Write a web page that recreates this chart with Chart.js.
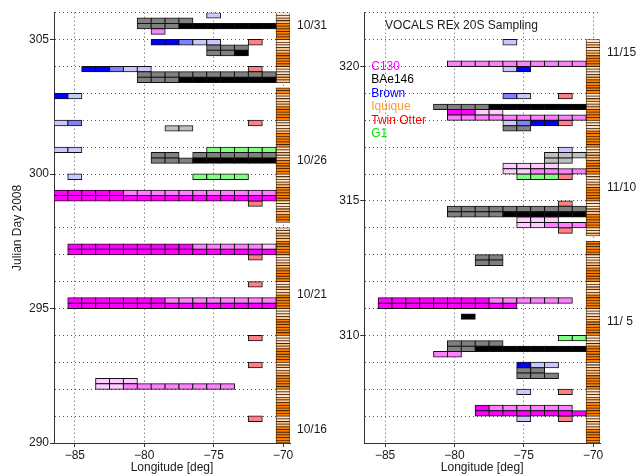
<!DOCTYPE html>
<html>
<head>
<meta charset="utf-8">
<script src="https://cdn.jsdelivr.net/npm/chart.js@4/dist/chart.umd.min.js"></script>
<style>
  html, body { margin: 0; padding: 0; background: #fff; }
  #wrap { position: relative; width: 638px; height: 476px; overflow: hidden; }
  canvas { position: absolute; top: 0; }
  #left { left: 0; }
  #right { left: 330px; }
</style>
</head>
<body>
<div id="wrap">
  <canvas id="left" width="330" height="476" style="width:330px;height:476px"></canvas>
  <canvas id="right" width="308" height="476" style="width:308px;height:476px"></canvas>
</div>
<script>
// ═══ DATA ═══
// rows: [top of 0.2-day bin (Julian day), westmost longitude, shade per 1-deg cell going east]
// shades  C130: F full, M medium, L light | BAe146: K black, G gray, S silver | Brown: B, M, L
const c130Left = [
  [305.4, -79, 'M'],
  [299.4, -86, 'FFFFFMMMMMMMMMMM'],
  [299.2, -86, 'FFFFFFFFFFFFFFFF'],
  [297.4, -85, 'FFFFFFFFFMMMMML'],
  [297.2, -85, 'FFFFFFFFFFFFFFF'],
  [295.4, -85, 'FFFFFFFMMMMMMMM'],
  [295.2, -85, 'FFFFFFFFFFFFFFF'],
  [292.4, -83, 'LLL'],
  [292.2, -83, 'LLMMMMMMMM']
];
const bae146Left = [
  [305.8, -80, 'GGGG'],
  [305.6, -80, 'GGGKKKKKKK'],
  [304.8, -75, 'GGG'],
  [304.6, -75, 'GGK'],
  [303.8, -80, 'GGGGGGGGGG'],
  [303.6, -80, 'GGGKKKKKKK'],
  [301.8, -78, 'SS'],
  [300.8, -79, 'GG.GGGGGG'],
  [300.6, -79, 'GGGKKKKKK']
];
const brownLeft = [
  [306.0, -75, 'L'],
  [305.0, -79, 'BBMLL'],
  [304.0, -84, 'BBMLL'],
  [303.0, -86, 'BL'],
  [302.0, -86, 'LM'],
  [301.0, -86, 'LL'],
  [300.0, -85, 'L']
];
const twinOtterLeft = [
  [305.0, -72, 'R'], [304.0, -72, 'R'], [302.0, -72, 'R'], [299.0, -72, 'R'], [297.0, -72, 'R'],
  [296.0, -72, 'R'], [294.0, -72, 'R'], [293.0, -72, 'R'], [291.0, -72, 'R']
];
const g1Left = [
  [301.0, -75, 'GGGGG'],
  [300.0, -76, 'GGGG']
];

const c130Right = [
  [320.2, -80, 'MMMMMMMMMM'],
  [318.4, -80, 'FFLL'],
  [318.2, -80, 'MMMMMMMMMM'],
  [316.4, -76, 'LLLL'],
  [316.2, -76, 'LLMMMM'],
  [314.4, -75, 'LLL'],
  [314.2, -75, 'LLMMM'],
  [311.4, -85, 'FFFFFFFFMMMMMM'],
  [311.2, -85, 'FFFFFFFFFF'],
  [309.4, -81, 'MM'],
  [307.4, -78, 'FMMMMMM'],
  [307.2, -78, 'FFFFFFFF']
];
const bae146Right = [
  [318.6, -81, 'GGGGKKKKKKK'],
  [317.8, -76, 'GG'],
  [316.8, -73, 'SSS'],
  [316.6, -73, 'SS'],
  [314.8, -80, 'GGGGGGGGGG'],
  [314.6, -80, 'GGGGKKKKKK'],
  [313.0, -78, 'GG'],
  [312.8, -78, 'GG'],
  [310.8, -79, 'K'],
  [309.8, -80, 'GGGG'],
  [309.6, -80, 'GGKKKKKKKK'],
  [308.8, -75, 'GG'],
  [308.6, -75, 'GGG']
];
const brownRight = [
  [321.0, -76, 'L'],
  [320.0, -76, 'LB'],
  [319.0, -76, 'ML'],
  [318.0, -76, 'LMBB'],
  [317.0, -72, 'L'],
  [309.0, -75, 'BLL'],
  [308.0, -75, 'L'],
  [307.0, -75, 'L']
];
const twinOtterRight = [
  [319.0, -72, 'R'], [318.0, -72, 'R'], [316.0, -72, 'R'], [315.0, -72, 'R'],
  [314.0, -72, 'R'], [308.0, -72, 'R'], [307.0, -72, 'R']
];
const g1Right = [
  [316.0, -75, 'GGG'],
  [310.0, -72, 'GG']
];

// Iquique column at -70: one string per day (top day first), 0.1-day bins, D dark, M mid, L light, - none
const iquiqueLon = -70;
const iquiqueLeft = [
  'LLMMDDDDDD', 'LLLMMDDDDD', 'LLLMMM--DD', 'MLLMMDDDDD',
  'LLLMMDDDDD', 'LLMLMDDDDD', 'LLLMMDDDDD', 'LLLMMDDD--',
  'LLMMMDDDDD', 'LLLMMDDDDD', 'LLMLMDDDDD', 'LLLMDDDDDD',
  'LLLMMDDDDD', 'LMLMMDDDDD', 'LLLMMDDDDD', 'LLMMDDDDDD'
];
const iquiqueRight = [
  '----------', 'LLMLMMDDDD', 'LLLMMDDDDD', 'LLMLMMDDDD',
  'LLLMDDDDDD', 'LLMMMDDDDD', 'LLLMMDDDDD', 'LLLMMDDDDD',
  'LLM--DDDDD', 'LLLMMDDDDD', 'LLMLMDDDDD', 'LLLMMDDDDD',
  'LLLMDDDDDD', 'LLMMMDDDDD', 'LLLMMDDDDD', 'LLMLMDDDDD'
];

const lonTicks = [-85, -80, -75, -70];
const leftDayTicks = [290, 295, 300, 305];
const rightDayTicks = [310, 315, 320];
const leftDates = ['10/31', '10/26', '10/21', '10/16'];
const leftDateDays = [305, 300, 295, 290];
const rightDates = ['11/15', '11/10', '11/ 5'];
const rightDateDays = [320, 315, 310];
const legendNames = ['C130', 'BAe146', 'Brown', 'Iquique', 'Twin Otter', 'G1'];
const legendColors = ['#ff00ff', '#000000', '#0000ff', '#ff9933', '#ff0000', '#00e600'];
const titleText = 'VOCALS REx 20S Sampling';

const shadeColors = {
  c130: { F: '#ff00ff', M: '#ff80ff', L: '#ffccff' },
  bae146: { K: '#000000', G: '#808080', S: '#c0c0c0' },
  brown: { B: '#0000ff', M: '#8080ff', L: '#c8c8ff' },
  twinOtter: { R: '#ff8080' },
  g1: { G: '#80ff80' },
  iquique: { D: '#ff8000', M: '#ffc080', L: '#ffe4c8' }
};

// ═══ HELPERS ═══
Chart.defaults.font.family = '"Liberation Sans", Arial, sans-serif';
Chart.defaults.font.size = 12;
Chart.defaults.color = '#1a1a1a';

function toCells(rows, h) {
  const out = [];
  rows.forEach(([top, lon0, s]) => {
    for (let i = 0; i < s.length; i++) {
      if (s[i] === '.') continue;
      out.push({ x: lon0 + i, y: [top - h, top], s: s[i] });
    }
  });
  return out;
}

function iquiqueCells(days, topDay) {
  const out = [];
  days.forEach((str, d) => {
    for (let i = 0; i < str.length; i++) {
      if (str[i] === '-') continue;
      const top = topDay - d - i * 0.1;
      out.push({ x: iquiqueLon, y: [top - 0.1, top], s: str[i] });
    }
  });
  return out;
}

function ds(label, data, colors, extra) {
  return Object.assign({ label, data, backgroundColor: c => (c.raw ? colors[c.raw.s] : '#000') }, extra || {});
}

const textPlugin = {
  id: 'panelText',
  afterDatasetsDraw(chart) {
    const { ctx, scales: { x, y } } = chart;
    ctx.save();
    ctx.font = '12px "Liberation Sans", Arial, sans-serif';
    ctx.textBaseline = 'middle';
    ctx.textAlign = 'left';
    ctx.fillStyle = '#1a1a1a';
    ctx.fillText(titleText, x.getPixelForValue(-85), y.getPixelForValue(321.5));
    legendNames.forEach((n, i) => {
      ctx.fillStyle = legendColors[i];
      ctx.fillText(n, x.getPixelForValue(-86), y.getPixelForValue(320 - 0.5 * i));
    });
    ctx.restore();
  }
};

// ═══ PANELS ═══
function panel(id, cfg) {
  const dayGrid = [];
  for (let d = cfg.yMin; d <= cfg.yMax; d++) dayGrid.push(d);
  return new Chart(document.getElementById(id), {
    type: 'bar',
    data: {
      datasets: [
        ds('C130', toCells(cfg.c130, 0.2), shadeColors.c130),
        ds('BAe146', toCells(cfg.bae146, 0.2), shadeColors.bae146),
        ds('Brown', toCells(cfg.brown, 0.2), shadeColors.brown),
        ds('Twin Otter', toCells(cfg.twinOtter, 0.2), shadeColors.twinOtter),
        ds('G1', toCells(cfg.g1, 0.2), shadeColors.g1),
        ds('Iquique', iquiqueCells(cfg.iquique, cfg.yMax), shadeColors.iquique,
          { borderWidth: 0.8, inflateAmount: 0.4, borderColor: '#3a2208' })
      ]
    },
    options: {
      responsive: false,
      animation: false,
      events: [],
      layout: { padding: { top: 12.7, left: 0, right: 0, bottom: 0 } },
      plugins: { legend: { display: false }, tooltip: { enabled: false } },
      datasets: {
        bar: {
          grouped: false, barPercentage: 1, categoryPercentage: 1,
          borderWidth: 1, borderColor: '#111', borderSkipped: false, inflateAmount: 0.5
        }
      },
      scales: {
        x: {
          type: 'linear', min: -86.5, max: -69.5, offset: false,
          afterBuildTicks: s => { s.ticks = lonTicks.map(v => ({ value: v })); },
          afterFit: s => { s.height = 33; },
          grid: { offset: false, color: '#555', lineWidth: 1, tickLength: 4, tickColor: '#333' },
          border: { display: true, color: '#333', width: 1, dash: [1, 3] },
          ticks: { autoSkip: false, maxRotation: 0, padding: 1, callback: v => '\u2212' + Math.abs(v) },
          title: { display: true, text: 'Longitude [deg]', padding: { top: 0, bottom: 1 } }
        },
        y: {
          type: 'linear', position: 'left', min: cfg.yMin, max: cfg.yMax,
          afterBuildTicks: s => { s.ticks = dayGrid.map(v => ({ value: v })); },
          afterFit: s => { s.width = cfg.yWidth; },
          grid: {
            color: '#555', lineWidth: 1, tickLength: 4,
            tickColor: c => (c.tick && cfg.dayTicks.includes(c.tick.value) ? '#333' : 'rgba(0,0,0,0)')
          },
          border: { display: true, color: '#333', width: 1, dash: [1, 3] },
          ticks: { autoSkip: false, padding: 1, callback: v => (cfg.dayTicks.includes(v) ? String(v) : '') },
          title: { display: cfg.yTitle, text: 'Julian Day 2008', padding: { top: 10, bottom: 0 } }
        },
        y2: {
          type: 'linear', position: 'right', min: cfg.yMin, max: cfg.yMax,
          afterBuildTicks: s => { s.ticks = cfg.dateDays.map(d => ({ value: d + 0.5 })); },
          afterFit: s => { s.width = cfg.y2Width; },
          grid: { display: true, drawOnChartArea: false, drawTicks: true, tickLength: 7, tickColor: 'rgba(0,0,0,0)' },
          border: { display: false },
          ticks: { autoSkip: false, padding: 0, callback: (v, i) => cfg.dates[i] }
        }
      }
    },
    plugins: cfg.plugins
  });
}

panel('left', {
  yMin: 290, yMax: 306, yWidth: 54, y2Width: 40, yTitle: true,
  dayTicks: leftDayTicks, dates: leftDates, dateDays: leftDateDays,
  c130: c130Left, bae146: bae146Left, brown: brownLeft, twinOtter: twinOtterLeft, g1: g1Left,
  iquique: iquiqueLeft, plugins: []
});

panel('right', {
  yMin: 306, yMax: 322, yWidth: 34.3, y2Width: 38, yTitle: false,
  dayTicks: rightDayTicks, dates: rightDates, dateDays: rightDateDays,
  c130: c130Right, bae146: bae146Right, brown: brownRight, twinOtter: twinOtterRight, g1: g1Right,
  iquique: iquiqueRight, plugins: [textPlugin]
});
</script>
</body>
</html>
